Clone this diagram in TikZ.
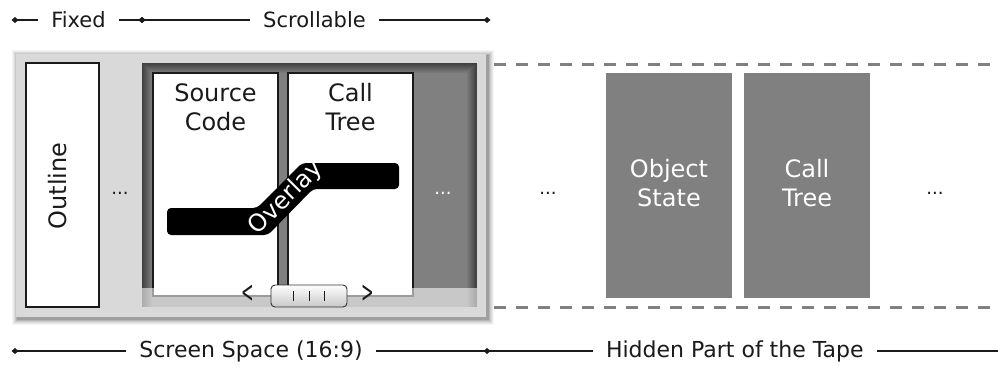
\documentclass[tikz,border=0pt]{standalone}
\usepackage{fontspec}
\setmainfont{DejaVu Sans}
\usetikzlibrary{arrows.meta}
\definecolor{framegray}{HTML}{D9D9D9}
\definecolor{textblack}{HTML}{1A1A1A}
\begin{document}
\begin{tikzpicture}[x=1pt,y=-1pt,
  lbl/.style={font=\fontsize{24}{29}\selectfont, align=center, inner sep=0pt, text=textblack},
  whitelbl/.style={lbl, text=white},
  dimlbl/.style={font=\fontsize{21}{25}\selectfont, fill=white, inner xsep=13pt, inner ysep=2pt, text=textblack},
  dimlblb/.style={dimlbl, font=\fontsize{22}{26}\selectfont},
  dim/.style={line width=1.6pt, textblack},
  tips/.style={{Diamond[length=7pt,width=6pt]}-{Diamond[length=7pt,width=6pt]}, shorten <=-3.5pt, shorten >=-3.5pt},
  card/.style={draw=textblack, line width=1.2pt, fill=white, inner sep=0pt},
  hidcard/.style={fill=black!50, inner sep=0pt},
  dots/.style={font=\fontsize{18}{20}\selectfont, inner sep=0pt, text=textblack},
  tapeedge/.style={draw=black!50, line width=3pt, dash pattern=on 12pt off 10pt},
  thumb/.style={draw=black!80, line width=0.9pt, rounded corners=4pt, top color=white, bottom color=black!22, minimum width=76pt, minimum height=22pt, inner sep=0pt},
  chevron/.style={font=\fontsize{20}{22}\selectfont, inner sep=0pt, text=textblack},
]
\useasboundingbox (0,0) rectangle (998,364);

% screen frame with soft shadow
\foreach \s/\o in {6/0.04,5/0.05,4/0.06,3/0.08,2/0.1,1/0.12}
  \fill[black, opacity=\o] (16-\s+1.5,54-\s+1.5) rectangle (486+\s+1.5,317+\s+1.5);
\fill[framegray] (16,54) rectangle (486,317);

% scrollable panel with inner shadow
\foreach \i in {0,...,10} {
  \pgfmathsetmacro\c{75-2.5*\i}
  \fill[black!\c] (142+\i,63+\i) rectangle (477-\i,307);
}

% cards on screen
\node[card, minimum width=73pt, minimum height=244pt] (outline) at (62.5,185) {};
\node[lbl, rotate=90] (outlinetxt) at (58,186) {Outline};
\node[card, minimum width=125pt, minimum height=223pt] (src) at (215.5,184.5) {};
\node[card, minimum width=125pt, minimum height=223pt] (call) at (350.5,184.5) {};
\node[lbl] (srctxt) at (215.5,107.5) {Source\\Code};
\node[lbl] (calltxt) at (350.5,107.5) {Call\\Tree};

% overlay band
\fill[black, rounded corners=4pt] (167,208) -- (257,208) -- (302,163) -- (399,163) -- (399,189) -- (313,189) -- (268,235) -- (167,235) -- cycle;
\node[whitelbl, rotate=45] (overlay) at (286,198) {Overlay};

% dots
\node[dots] (d1) at (120,193) {...};
\node[dots, text=white] (d2) at (443,193) {...};
\node[dots] (d3) at (548,193) {...};
\node[dots] (d4) at (935,193) {...};

% scroll track and thumb
\fill[white, opacity=0.57] (142,288) rectangle (477,307);
\node[thumb] (thumb) at (309,296) {};
\foreach \dx in {-16,0,15}
  \draw[line width=1pt, textblack] ([xshift=\dx pt, yshift=-5pt]thumb.center) -- ([xshift=\dx pt, yshift=5pt]thumb.center);
\node[chevron] (left) at (248,294) {\scalebox{0.75}[1.5]{<}};
\node[chevron] (right) at (368,294) {\scalebox{0.75}[1.5]{>}};

% hidden part of the tape
\coordinate (tt0) at (494,64);
\coordinate (tt1) at (998,64);
\coordinate (tb0) at (494,307);
\coordinate (tb1) at (998,307);
\draw[tapeedge] (tt0) -- (tt1);
\draw[tapeedge] (tb0) -- (tb1);
\node[hidcard, minimum width=126pt, minimum height=225pt] (obj) at (669,185.5) {};
\node[hidcard, minimum width=126pt, minimum height=225pt] (call2) at (807,185.5) {};
\node[whitelbl] (objtxt) at (669,183) {Object\\State};
\node[whitelbl] (call2txt) at (807,183) {Call\\Tree};

% dimension lines
\coordinate (t0) at (15,20);
\coordinate (t1) at (142,20);
\coordinate (t2) at (487,20);
\draw[dim, tips] (t0) -- node[dimlbl] (fixed) {Fixed} (t1);
\draw[dim, tips] (t1) -- node[dimlbl] (scroll) {Scrollable} (t2);
\coordinate (b0) at (15,351);
\coordinate (b1) at (487,351);
\coordinate (b2) at (998,351);
\draw[dim, tips] (b0) -- node[dimlblb] (screen) {Screen Space (16:9)} (b1);
\draw[dim] (b1) -- node[dimlblb, pos=0.485] (hidden) {Hidden Part of the Tape} (b2);
\end{tikzpicture}
\end{document}
